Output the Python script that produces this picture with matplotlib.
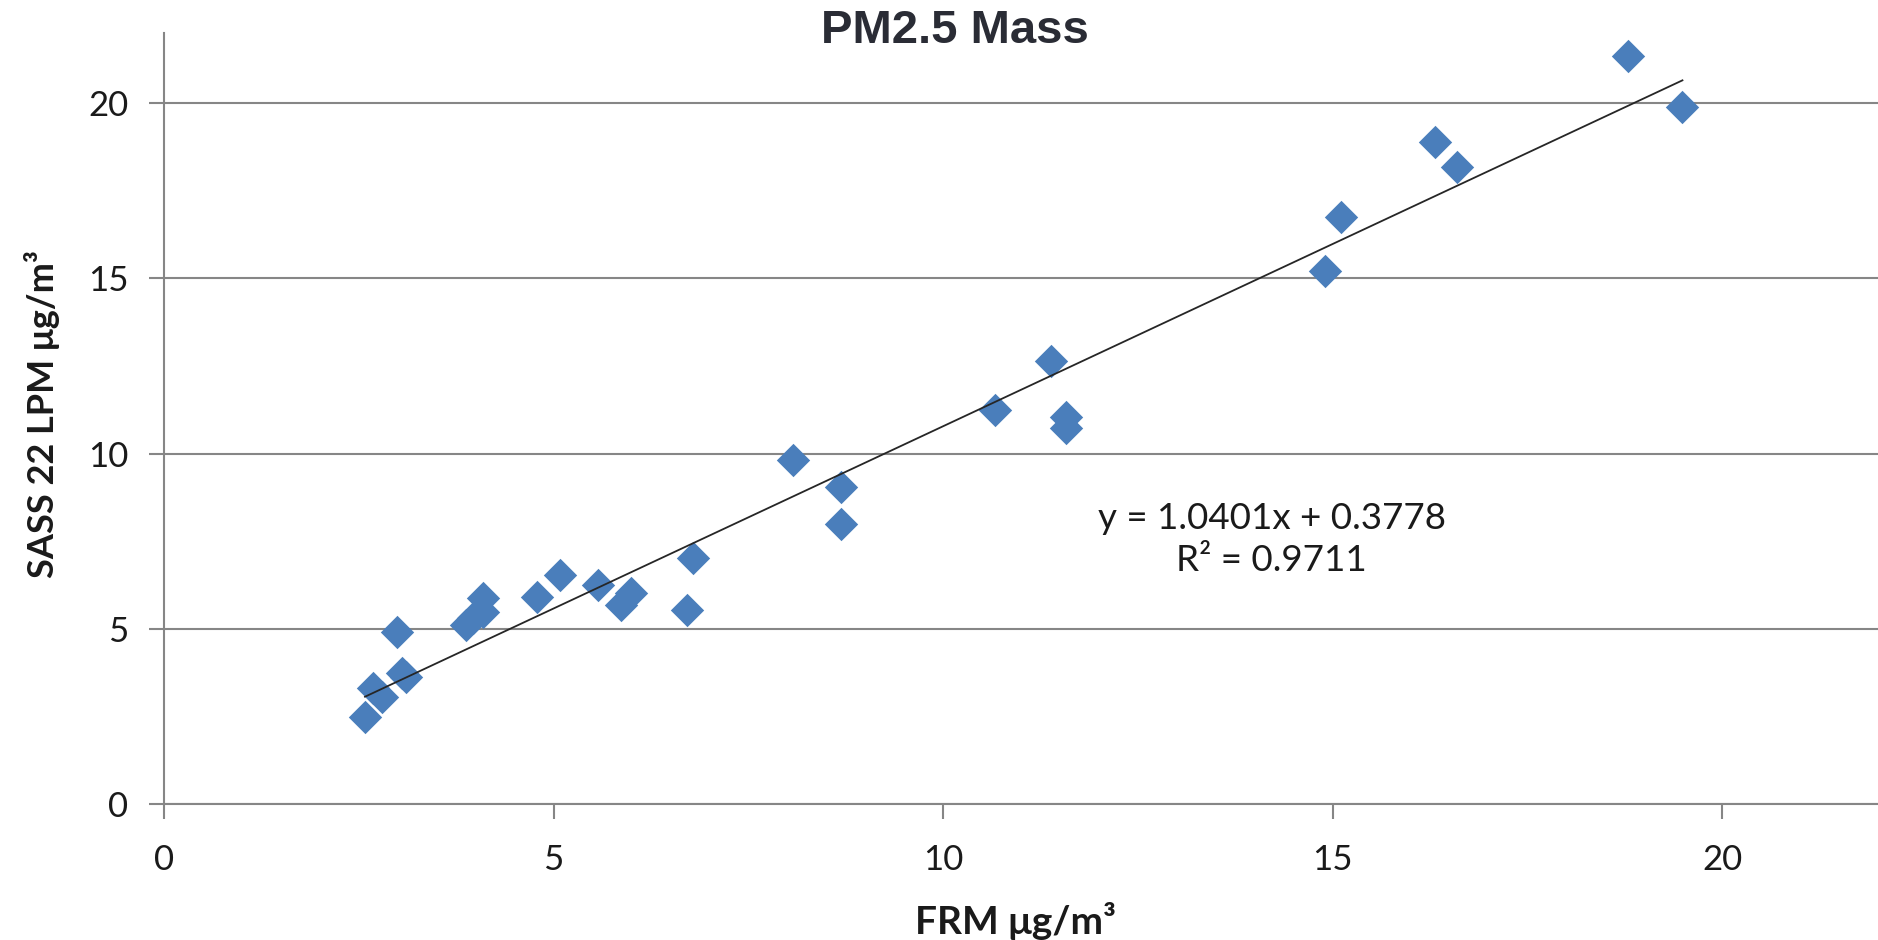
import matplotlib
matplotlib.use("Agg")
import matplotlib.pyplot as plt
import numpy as np

# Data
frm = [2.58, 2.68, 2.80, 3.05, 3.11, 2.99, 3.87, 3.97, 4.09, 4.10, 4.79, 5.08,
       5.57, 5.87, 6.00, 6.71, 6.79, 8.07, 8.69, 8.69, 10.67, 11.39, 11.58,
       11.58, 14.90, 15.11, 16.31, 16.60, 18.79, 19.49]
sass = [2.48, 3.30, 3.05, 3.73, 3.63, 4.91, 5.11, 5.31, 5.88, 5.48, 5.91, 6.54,
        6.25, 5.68, 6.02, 5.54, 7.03, 9.83, 9.04, 7.98, 11.23, 12.64, 11.03,
        10.72, 15.20, 16.75, 18.90, 18.18, 21.34, 19.90]
slope = 1.0401
intercept = 0.3778
r2 = 0.9711
x_ticks = [0, 5, 10, 15, 20]
y_ticks = [0, 5, 10, 15, 20]
title = "PM2.5 Mass"
xlabel = "FRM μg/m³"
ylabel = "SASS 22 LPM μg/m³"

W, H = 1878, 940
fig = plt.figure(figsize=(W / 100, H / 100), dpi=100)
ax = fig.add_axes([164 / W, 136 / H, (W - 164) / W, (804 - 33) / H])

grid_col = "#868686"
ax.set_xlim(0, 22)
ax.set_ylim(0, 22)
ax.set_xticks(x_ticks)
ax.set_yticks(y_ticks)
ax.yaxis.grid(True, color=grid_col, linewidth=1.5)
ax.set_axisbelow(True)
for s in ["top", "right"]:
    ax.spines[s].set_visible(False)
for s in ["left", "bottom"]:
    ax.spines[s].set_color(grid_col)
    ax.spines[s].set_linewidth(1.5)

ax.tick_params(axis="both", colors=grid_col, width=1.5, length=10.5,
               labelcolor="#1a1a1a", labelsize=25)
ax.tick_params(axis="x", pad=18.5)
ax.tick_params(axis="y", pad=15)
for lab in ax.get_xticklabels() + ax.get_yticklabels():
    lab.set_fontfamily("Lato")

ax.scatter(frm, sass, marker="D", s=17 ** 2, color="#4A7EBB", linewidths=0, zorder=3)

xf = np.array([min(frm), max(frm)])
ax.plot(xf, slope * xf + intercept, color="#262626", linewidth=1.3, zorder=4)

ax.text(14.22, 8.14, f"y = {slope:.4f}x + {intercept:.4f}", ha="center", va="center",
        fontsize=26.5, family="Lato", color="#1a1a1a")
ax.text(14.22, 6.94, f"R² = {r2:.4f}", ha="center", va="center",
        fontsize=26.5, family="Lato", color="#1a1a1a")

fig.text(955 / W, 1 - 31 / H, title, ha="center", va="center", fontsize=34,
         fontweight="bold", family="Liberation Sans", color="#2a2c35")
fig.text(1015 / W, 1 - 921 / H, xlabel, ha="center", va="center", fontsize=28,
         fontweight="bold", family="Lato", color="#1a1a1a")
fig.text(42 / W, 1 - 414 / H, ylabel, ha="center", va="center", fontsize=26,
         fontweight="bold", family="Lato", color="#1a1a1a", rotation=90)

fig.savefig("out.png", dpi=100)
